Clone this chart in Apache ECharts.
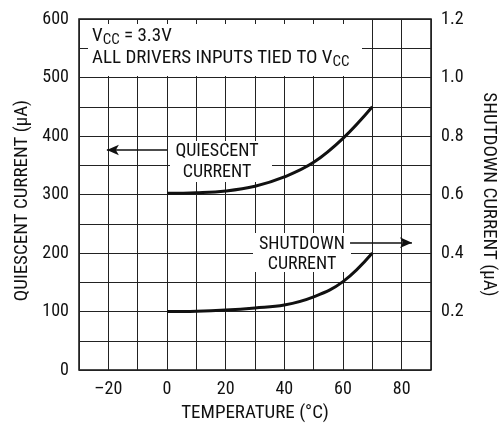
<!DOCTYPE html>
<html><head><meta charset="utf-8">
<script src="https://cdn.jsdelivr.net/npm/echarts@6/dist/echarts.min.js"></script>
<style>html,body{margin:0;padding:0;background:#fff}#c{width:503px;height:423px}</style>
</head><body><div id="c"></div>
<script>
const temps = [0, 10, 20, 30, 40, 50, 60, 70];
const quiescent = [302, 303, 306, 314, 330, 355, 396, 450];   // µA, left axis
const shutdown = [0.200, 0.201, 0.205, 0.212, 0.222, 0.250, 0.302, 0.400]; // µA, right axis
const xTickLabels = [-20, 0, 20, 40, 60, 80];
const leftTickLabels = [0, 100, 200, 300, 400, 500, 600];
const rightTickLabels = [0.2, 0.4, 0.6, 0.8, 1.0, 1.2];

const FONT = "'Roboto Condensed','DejaVu Sans Condensed',sans-serif";
const fs = 18;
const nfs = 19;
const chart = echarts.init(document.getElementById('c'));
const black = '#111';
const gridLine = {show: true, lineStyle: {color: '#222', width: 1}};
chart.setOption({
  animation: false,
  grid: {left: 79, right: 72, top: 19, bottom: 53, containLabel: false, outerBoundsMode: 'none',
    show: true, borderColor: black, borderWidth: 1.5, backgroundColor: 'transparent'},
  xAxis: {
    type: 'value', min: -30, max: 90, interval: 10,
    name: 'TEMPERATURE (°C)', nameLocation: 'middle', nameGap: 34,
    nameTextStyle: {fontFamily: FONT, fontSize: nfs, color: black},
    axisLine: {show: false}, axisTick: {show: false},
    splitLine: gridLine,
    axisLabel: {fontFamily: FONT, fontSize: fs, color: black, margin: 10,
      formatter: v => xTickLabels.includes(v) ? (v < 0 ? '\u2013' + Math.abs(v) : String(v)) : ''}
  },
  yAxis: [{
    type: 'value', min: 0, max: 600, interval: 50,
    name: 'QUIESCENT CURRENT (\u03BCA)', nameLocation: 'middle', nameGap: 42, nameRotate: 90,
    nameTextStyle: {fontFamily: FONT, fontSize: nfs, color: black, padding: [0, 12, 0, 0]},
    axisLine: {show: false}, axisTick: {show: false},
    splitLine: gridLine,
    axisLabel: {fontFamily: FONT, fontSize: fs, color: black, margin: 10,
      formatter: v => leftTickLabels.includes(v) ? String(v) : ''}
  }, {
    type: 'value', min: 0, max: 1.2, interval: 0.1, position: 'right',
    name: 'SHUTDOWN CURRENT (\u03BCA)', nameLocation: 'middle', nameGap: 48, nameRotate: -90,
    nameTextStyle: {fontFamily: FONT, fontSize: nfs, color: black},
    axisLine: {show: false}, axisTick: {show: false},
    splitLine: {show: false},
    axisLabel: {fontFamily: FONT, fontSize: fs, color: black, margin: 10,
      formatter: v => rightTickLabels.some(t => Math.abs(t - v) < 1e-6) ? v.toFixed(1) : ''}
  }],
  series: [{
    type: 'line', name: 'Quiescent', yAxisIndex: 0, smooth: 0.4, showSymbol: false,
    data: temps.map((t, i) => [t, quiescent[i]]),
    lineStyle: {color: black, width: 3}, z: 5,
    markLine: {
      silent: true, symbol: ['none', 'arrow'], symbolSize: [8, 12], label: {show: false},
      lineStyle: {color: black, width: 1.5, type: 'solid'},
      data: [
        [{coord: [0, 376]}, {coord: [-20.5, 376]}],
        [{coord: [62.4, 217.6]}, {coord: [83.5, 217.6]}]
      ]
    }
  }, {
    type: 'line', name: 'Shutdown', yAxisIndex: 1, smooth: 0.4, showSymbol: false,
    data: temps.map((t, i) => [t, shutdown[i]]),
    lineStyle: {color: black, width: 3}, z: 5
  }],
  graphic: [
    {type: 'rect', z: 1, shape: {x: 88, y: 24, width: 274, height: 52}, style: {fill: '#fff'}},
    {type: 'text', z: 11, left: 92, top: 27, style: {
      text: '{n|V}{s|CC}{n| = 3.3V}',
      rich: {n: {fontFamily: FONT, fontSize: nfs, fill: black}, s: {fontFamily: FONT, fontSize: 15, fill: black, padding: [8, 0, 0, 0]}}}},
    {type: 'text', z: 11, left: 92, top: 49, style: {
      text: '{n|ALL DRIVERS INPUTS TIED TO V}{s|CC}',
      rich: {n: {fontFamily: FONT, fontSize: nfs, fill: black}, s: {fontFamily: FONT, fontSize: 15, fill: black, padding: [8, 0, 0, 0]}}}},
    {type: 'rect', z: 1, shape: {x: 170, y: 141, width: 102, height: 41}, style: {fill: '#fff'}},
    {type: 'text', z: 11, x: 217, y: 151, style: {text: 'QUIESCENT', fontFamily: FONT, fontSize: fs, fill: black, align: 'center', verticalAlign: 'middle'}},
    {type: 'text', z: 11, x: 217, y: 172, style: {text: 'CURRENT', fontFamily: FONT, fontSize: fs, fill: black, align: 'center', verticalAlign: 'middle'}},
    {type: 'rect', z: 1, shape: {x: 253, y: 233, width: 98, height: 39}, style: {fill: '#fff'}},
    {type: 'text', z: 11, x: 302, y: 244, style: {text: 'SHUTDOWN', fontFamily: FONT, fontSize: fs, fill: black, align: 'center', verticalAlign: 'middle'}},
    {type: 'text', z: 11, x: 302, y: 264, style: {text: 'CURRENT', fontFamily: FONT, fontSize: fs, fill: black, align: 'center', verticalAlign: 'middle'}}
  ]
});
</script></body></html>
